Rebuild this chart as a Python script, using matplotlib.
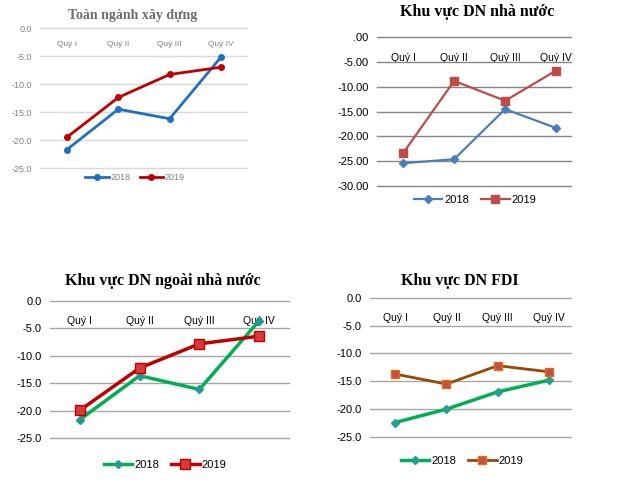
import matplotlib
matplotlib.use("Agg")
import matplotlib.pyplot as plt
from matplotlib.ticker import FuncFormatter

quarters = ["Quý I", "Quý II", "Quý III", "Quý IV"]
series_names = ["2018", "2019"]

# values (percent)
toan_nganh_2018 = [-21.7, -14.5, -16.2, -5.2]
toan_nganh_2019 = [-19.5, -12.4, -8.3, -7.0]

nha_nuoc_2018 = [-25.4, -24.6, -14.5, -18.3]
nha_nuoc_2019 = [-23.4, -8.8, -12.8, -6.7]

ngoai_nn_2018 = [-21.6, -13.6, -16.1, -3.6]
ngoai_nn_2019 = [-19.9, -12.2, -7.8, -6.4]

fdi_2018 = [-22.4, -20.0, -16.9, -14.8]
fdi_2019 = [-13.7, -15.5, -12.2, -13.3]

W, H = 640, 499
fig = plt.figure(figsize=(W / 100, H / 100), dpi=100)
plt.rcParams['font.family'] = ['Liberation Sans', 'DejaVu Sans']


def px_axes(x0, x1, y0, y1):
    return fig.add_axes([x0 / W, 1 - y1 / H, (x1 - x0) / W, (y1 - y0) / H])


def style_axes(ax, ymin, fmt, grid_color, text_color, fsize, xlim, pad):
    ax.set_ylim(ymin, 0)
    ax.set_xlim(*xlim)
    ax.set_yticks(range(ymin, 1, 5))
    ax.yaxis.set_major_formatter(FuncFormatter(fmt))
    ax.set_xticks(range(len(quarters)))
    ax.set_xticklabels(quarters)
    ax.xaxis.tick_top()
    ax.tick_params(axis='x', length=0, pad=-pad, labelsize=fsize, colors=text_color)
    ax.tick_params(axis='y', length=0, pad=6, labelsize=fsize + 0.5, colors=text_color)
    for lab in ax.get_xticklabels():
        lab.set_verticalalignment('top')
    ax.grid(axis='y', color=grid_color, lw=1)
    for gl in ax.get_ygridlines():
        gl.set_clip_on(False)
    ax.set_axisbelow(True)
    for s in ax.spines.values():
        s.set_visible(False)


def add_legend(ax, cx, cy, fsize, color):
    h, l = ax.get_legend_handles_labels()
    fig.legend(h, l, loc='center', bbox_to_anchor=(cx / W, 1 - cy / H), ncol=2,
               frameon=False, fontsize=fsize, labelcolor=color, handlelength=2.6,
               columnspacing=1.0, handletextpad=0.2, borderaxespad=0)


fmt1 = lambda v, p: f"{v:.1f}"
fmt2 = lambda v, p: ".00" if v == 0 else f"{v:.2f}"

# Toàn ngành xây dựng
ax1 = px_axes(40, 247, 28, 168)
x = range(len(quarters))
ax1.plot(x, toan_nganh_2018, color='#1f70c1', lw=2, marker='o', ms=4, label=series_names[0])
ax1.plot(x, toan_nganh_2019, color='#c00000', lw=2, marker='o', ms=4, label=series_names[1])
style_axes(ax1, -25, fmt1, '#d9d9d9', '#808080', 6, (-0.526, 3.507), 9)
fig.text(133 / W, 1 - 15 / H, "Toàn ngành xây dựng", ha='center', va='center',
         family='Liberation Serif', weight='bold', fontsize=10, color='#6d6d6d')
add_legend(ax1, 135, 178, 6.5, '#808080')

# Khu vực DN nhà nước
ax2 = px_axes(377, 571, 37.3, 186)
ax2.plot(x, nha_nuoc_2018, color='#4a7ebb', lw=1.6, marker='D', ms=4.5, label=series_names[0])
ax2.plot(x, nha_nuoc_2019, color='#be4b48', lw=1.6, marker='s', ms=6, label=series_names[1])
style_axes(ax2, -30, fmt2, '#868686', 'black', 7.5, (-0.51, 3.29), 11)
fig.text(477 / W, 1 - 12 / H, "Khu vực DN nhà nước", ha='center', va='center',
         family='Liberation Serif', weight='bold', fontsize=11.5, color='black')
add_legend(ax2, 475, 200, 8, 'black')

# Khu vực DN ngoài nhà nước
ax3 = px_axes(50, 289, 301, 438.3)
ax3.plot(x, ngoai_nn_2018, color='#00b050', lw=2.5, marker='D', ms=4.5,
         mfc='#1f9b8f', mec='#1f9b8f', label=series_names[0])
ax3.plot(x, ngoai_nn_2019, color='#c00000', lw=2.5, marker='s', ms=6.5,
         mfc='#d9393a', mec='#c00000', label=series_names[1])
style_axes(ax3, -25, fmt1, '#a6a6a6', 'black', 7.5, (-0.5, 3.5), 11)
fig.text(163 / W, 1 - 281 / H, "Khu vực DN ngoài nhà nước", ha='center', va='center',
         family='Liberation Serif', weight='bold', fontsize=11.5, color='black')
add_legend(ax3, 165, 465, 8, 'black')

# Khu vực DN FDI
ax4 = px_axes(370, 571, 297.7, 437)
ax4.plot(x, fdi_2018, color='#00b050', lw=2.5, marker='D', ms=4.5,
         mfc='#23a08a', mec='#23a08a', label=series_names[0])
ax4.plot(x, fdi_2019, color='#984807', lw=2, marker='s', ms=5.5,
         mfc='#c0504d', mec='#e46c0a', label=series_names[1])
style_axes(ax4, -25, fmt1, '#a6a6a6', 'black', 7.5, (-0.49, 3.43), 11)
fig.text(460 / W, 1 - 281 / H, "Khu vực DN FDI", ha='center', va='center',
         family='Liberation Serif', weight='bold', fontsize=11.5, color='black')
add_legend(ax4, 462, 461, 8, 'black')

fig.savefig("out.png", dpi=100)
